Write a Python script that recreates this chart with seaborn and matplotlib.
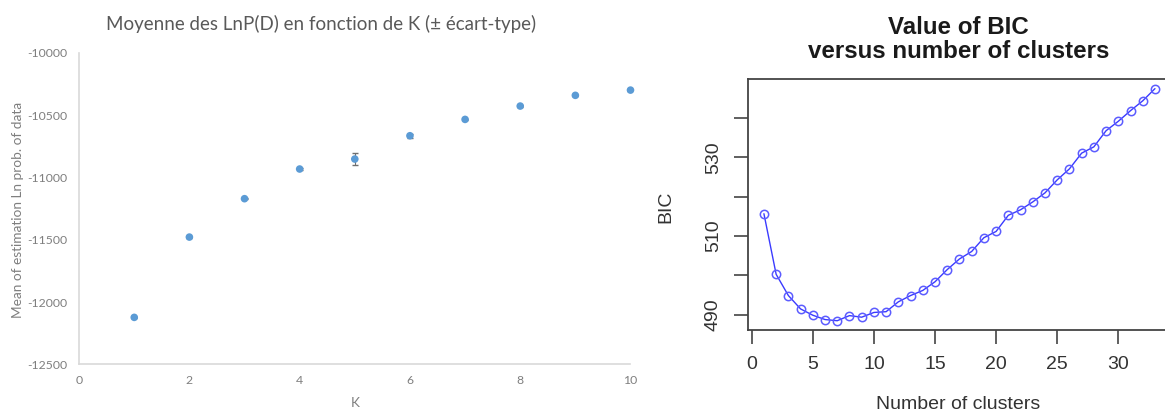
import matplotlib
matplotlib.use('Agg')
import matplotlib.pyplot as plt
import seaborn as sns
import pandas as pd

sns.set_style('white')
plt.rcParams['font.family'] = ['Lato', 'DejaVu Sans']

# left panel: mean LnP(D) per K with std
k_vals = [1, 2, 3, 4, 5, 6, 7, 8, 9, 10]
lnpd_mean = [-12123, -11479, -11171, -10933, -10853, -10666, -10535, -10428, -10342, -10300]
lnpd_sd = [5, 5, 5, 5, 47, 15, 5, 5, 5, 5]
left_yticks = [-12500, -12000, -11500, -11000, -10500, -10000]
left_xticks = [0, 2, 4, 6, 8, 10]

# right panel: BIC versus number of clusters
clusters = list(range(1, 34))
bic = [515.7, 500.3, 494.9, 491.5, 489.9, 488.8, 488.5, 489.8, 489.4, 490.6,
       490.8, 493.3, 494.9, 496.2, 498.4, 501.5, 504.2, 506.1, 509.6, 511.2,
       515.3, 516.7, 518.7, 521.0, 524.3, 527.1, 531.1, 532.7, 536.8, 539.2,
       541.9, 544.4, 547.5]
right_yticks = [490, 500, 510, 520, 530, 540]
right_ylabels = ['490', '', '510', '', '530', '']
right_xticks = [0, 5, 10, 15, 20, 25, 30]

df_left = pd.DataFrame({'K': k_vals, 'mean': lnpd_mean, 'sd': lnpd_sd})
df_right = pd.DataFrame({'n': clusters, 'bic': bic})

fig = plt.figure(figsize=(11.65, 4.15), dpi=100)

# ---- left (Excel style) ----
ax1 = fig.add_axes([0.0679, 0.122, 0.4733, 0.751])
ax1.errorbar(df_left['K'], df_left['mean'], yerr=df_left['sd'], fmt='none',
             ecolor='#6f6f6f', elinewidth=0.8, capsize=2, zorder=2)
sns.scatterplot(data=df_left, x='K', y='mean', ax=ax1, color='#5b9bd5',
                s=30, edgecolor='none', zorder=3, clip_on=False)
ax1.set_xlim(0, 10)
ax1.set_ylim(-12500, -10000)
ax1.set_xticks(left_xticks)
ax1.set_yticks(left_yticks)
ax1.set_yticklabels([str(v) for v in left_yticks])
ax1.tick_params(length=0, labelsize=8.8, colors='#7f7f7f')
ax1.tick_params(axis='y', pad=8.5)
ax1.tick_params(axis='x', pad=8)
for s in ['top', 'right']:
    ax1.spines[s].set_visible(False)
for s in ['left', 'bottom']:
    ax1.spines[s].set_color('#d9d9d9')
    ax1.spines[s].set_linewidth(1.2)
ax1.set_xlabel('K', fontsize=9.8, color='#7f7f7f')
ax1.set_ylabel('Mean of estimation Ln prob. of data', fontsize=9.8, color='#7f7f7f')
ax1.xaxis.set_label_coords(0.5, -0.105)
ax1.yaxis.set_label_coords(-0.100, 0.497)
fig.text(0.2755, 0.942, 'Moyenne des LnP(D) en fonction de K (\u00b1 \u00e9cart-type)',
         ha='center', va='center', fontsize=13.5, color='#595959')

# ---- right (R base style) ----
rfont = ['Liberation Sans', 'DejaVu Sans']
ax2 = fig.add_axes([0.6423, 0.2048, 0.3625, 0.604])
sns.lineplot(data=df_right, x='n', y='bic', ax=ax2, color='#3a3aff', lw=1,
             marker='o', markersize=6, markerfacecolor='none',
             markeredgecolor='#5c5cff', markeredgewidth=1.1)
ax2.set_xlim(-0.28, 34.28)
ax2.set_ylim(486.14, 549.86)
ax2.set_xticks(right_xticks)
ax2.set_xticklabels([str(v) for v in right_xticks], family=rfont)
ax2.set_yticks(right_yticks)
ax2.set_yticklabels(right_ylabels, rotation=90, va='center', family=rfont)
for s in ax2.spines.values():
    s.set_color('#444444')
    s.set_linewidth(1.3)
ax2.tick_params(bottom=True, left=True, direction='out', length=10, width=1.2,
                color='#444444', labelsize=14, labelcolor='#333333')
ax2.tick_params(axis='x', pad=9)
ax2.tick_params(axis='y', pad=9)
ax2.set_xlabel('Number of clusters', fontsize=14, color='#333333', family=rfont)
ax2.set_ylabel('BIC', fontsize=14, color='#333333', family=rfont)
ax2.xaxis.set_label_coords(0.4966, -0.263)
ax2.yaxis.set_label_coords(-0.174, 0.49)
fig.text(0.8228, 0.905, 'Value of BIC\nversus number of clusters', ha='center',
         va='center', fontsize=17.4, fontweight='bold', color='#1a1a1a',
         family=rfont, linespacing=1.1)

fig.savefig('out.png', dpi=100)
